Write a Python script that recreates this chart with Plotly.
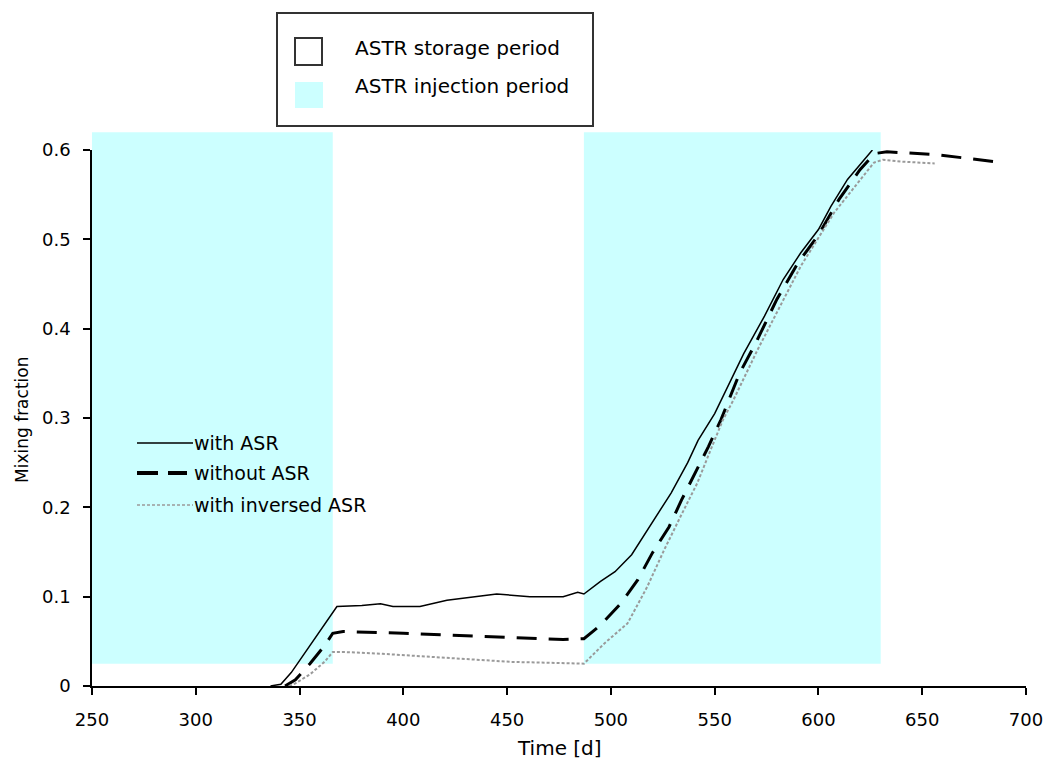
import plotly.graph_objects as go

# ---------------- data ----------------
asr_t = [336, 341, 346, 352, 360, 368, 380, 389, 395, 408, 421, 445, 461, 477, 484, 487,
         495, 502, 510, 520, 529, 537, 542, 550, 564, 574, 583, 591.5, 600, 606, 614, 626]
asr_v = [0.0, 0.002, 0.015, 0.035, 0.062, 0.089, 0.090, 0.092, 0.089, 0.089, 0.096, 0.103,
         0.100, 0.100, 0.105, 0.103, 0.117, 0.128, 0.147, 0.183, 0.216, 0.250, 0.275, 0.305,
         0.372, 0.414, 0.455, 0.485, 0.511, 0.537, 0.567, 0.600]

noasr_t = [343, 348, 355, 362, 366, 371, 400, 421, 450, 477, 487, 495, 505, 513, 520, 528,
           534, 540, 547, 553, 562, 570, 580, 590, 600, 610, 620, 627, 633, 656, 685]
noasr_v = [0.0, 0.007, 0.025, 0.045, 0.059, 0.061, 0.059, 0.057, 0.055, 0.052, 0.053, 0.068,
           0.093, 0.119, 0.149, 0.178, 0.208, 0.236, 0.268, 0.298, 0.350, 0.385, 0.433, 0.473,
           0.505, 0.545, 0.578, 0.596, 0.598, 0.595, 0.587]

inv_t = [345, 348, 355, 362, 366, 372, 390, 403, 430, 452, 470, 485, 487, 497, 508, 517.5,
         525.6, 533.6, 541.6, 548, 554, 559, 570.6, 591.5, 607.6, 626.8, 631, 640, 656]
inv_v = [0.0, 0.003, 0.013, 0.027, 0.038, 0.038, 0.036, 0.034, 0.030, 0.027, 0.026, 0.025,
         0.025, 0.048, 0.070, 0.111, 0.152, 0.190, 0.227, 0.264, 0.298, 0.320, 0.376, 0.470,
         0.530, 0.586, 0.589, 0.587, 0.585]

injection_start = [250, 487]
injection_end = [366, 630]
injection_low = 0.025
injection_high = 0.62

series_names = ["with ASR", "without ASR", "with inversed ASR"]
x_ticks = [250, 300, 350, 400, 450, 500, 550, 600, 650, 700]
y_ticks = [0, 0.1, 0.2, 0.3, 0.4, 0.5, 0.6]

# ---------------- layout geometry ----------------
W, H = 1046, 764
ML, MR, MT, MB = 92, 20, 150, 78
PW, PH = W - ML - MR, H - MT - MB
XMIN, XMAX = 250, 700
YMIN, YMAX = 0, 0.6
FONT = "DejaVu Sans, Verdana, sans-serif"
CYAN = "#CCFFFF"


def px(xp):
    return (xp - ML) / PW


def py(yp):
    return (H - MB - yp) / PH


styles = [
    dict(color="black", width=1.5, dash="solid"),
    dict(color="black", width=3, dash="20px,12px"),
    dict(color="#9a9a9a", width=2, dash="3px,2px"),
]

fig = go.Figure()
for (t, v), name, st in zip([(asr_t, asr_v), (noasr_t, noasr_v), (inv_t, inv_v)], series_names, styles):
    fig.add_trace(go.Scatter(x=t, y=v, mode="lines", name=name, line=st, showlegend=False,
                             hoverinfo="skip"))

shapes = []
# injection-period shading (paper-referenced so it may extend above the axis top)
for s, e in zip(injection_start, injection_end):
    shapes.append(dict(type="rect", xref="paper", yref="paper",
                       x0=(s - XMIN) / (XMAX - XMIN), x1=(e - XMIN) / (XMAX - XMIN),
                       y0=(injection_low - YMIN) / (YMAX - YMIN), y1=(injection_high - YMIN) / (YMAX - YMIN),
                       fillcolor=CYAN, line=dict(width=0), layer="below"))

# period legend box (outside plot, top)
shapes.append(dict(type="rect", xref="paper", yref="paper", x0=px(277), x1=px(593), y0=py(126), y1=py(13),
                   line=dict(color="#333333", width=2), fillcolor="white"))
shapes.append(dict(type="rect", xref="paper", yref="paper", x0=px(295), x1=px(322), y0=py(65), y1=py(38),
                   line=dict(color="#333333", width=2), fillcolor="white"))
shapes.append(dict(type="rect", xref="paper", yref="paper", x0=px(295), x1=px(323), y0=py(108), y1=py(82),
                   line=dict(width=0), fillcolor=CYAN))

# line legend glyphs
leg_y = [443, 473, 505]
shapes.append(dict(type="line", xref="paper", yref="paper", x0=px(137), x1=px(193), y0=py(leg_y[0]), y1=py(leg_y[0]),
                   line=dict(color="black", width=1.5)))
shapes.append(dict(type="line", xref="paper", yref="paper", x0=px(137), x1=px(158), y0=py(leg_y[1]), y1=py(leg_y[1]),
                   line=dict(color="black", width=4)))
shapes.append(dict(type="line", xref="paper", yref="paper", x0=px(168), x1=px(187), y0=py(leg_y[1]), y1=py(leg_y[1]),
                   line=dict(color="black", width=4)))
shapes.append(dict(type="line", xref="paper", yref="paper", x0=px(137), x1=px(193), y0=py(leg_y[2]), y1=py(leg_y[2]),
                   line=dict(color="#9a9a9a", width=1.5, dash="3px,2px")))

annotations = [
    dict(text="ASTR storage period", xref="paper", yref="paper", x=px(353), y=py(48),
         xanchor="left", yanchor="middle", showarrow=False, font=dict(family=FONT, size=20, color="black")),
    dict(text="ASTR injection period", xref="paper", yref="paper", x=px(353), y=py(86),
         xanchor="left", yanchor="middle", showarrow=False, font=dict(family=FONT, size=20, color="black")),
    dict(text="Time [d]", xref="paper", yref="paper", x=px(559), y=py(748),
         xanchor="center", yanchor="middle", showarrow=False, font=dict(family=FONT, size=20, color="black")),
    dict(text="Mixing fraction", xref="paper", yref="paper", x=px(22), y=py(420), textangle=-90,
         xanchor="center", yanchor="middle", showarrow=False, font=dict(family=FONT, size=17, color="black")),
]
for yy, name in zip(leg_y, series_names):
    annotations.append(dict(text=name, xref="paper", yref="paper", x=px(192), y=py(yy),
                            xanchor="left", yanchor="middle", showarrow=False,
                            font=dict(family=FONT, size=19, color="black")))

fig.update_layout(
    width=W, height=H,
    margin=dict(l=ML, r=MR, t=MT, b=MB, autoexpand=False),
    plot_bgcolor="white", paper_bgcolor="white",
    font=dict(family=FONT, size=18, color="black"),
    shapes=shapes, annotations=annotations,
    showlegend=False,
)
fig.update_xaxes(range=[XMIN, XMAX], tickvals=x_ticks, ticks="outside", ticklen=7, tickwidth=1.5,
                 tickcolor="black", showline=True, linecolor="black", linewidth=1.5,
                 showgrid=False, zeroline=False, ticklabelstandoff=10, automargin=False,
                 ticklabeloverflow="allow",
                 tickfont=dict(family=FONT, size=18, color="black"))
fig.update_yaxes(range=[YMIN, YMAX], tickvals=y_ticks, ticktext=[str(v) for v in y_ticks],
                 ticks="outside", ticklen=7, tickwidth=1.5, ticklabelstandoff=9, automargin=False,
                 tickcolor="black", showline=True, linecolor="black", linewidth=1.5,
                 showgrid=False, zeroline=False, tickfont=dict(family=FONT, size=18, color="black"))

fig.write_html("out.html")
